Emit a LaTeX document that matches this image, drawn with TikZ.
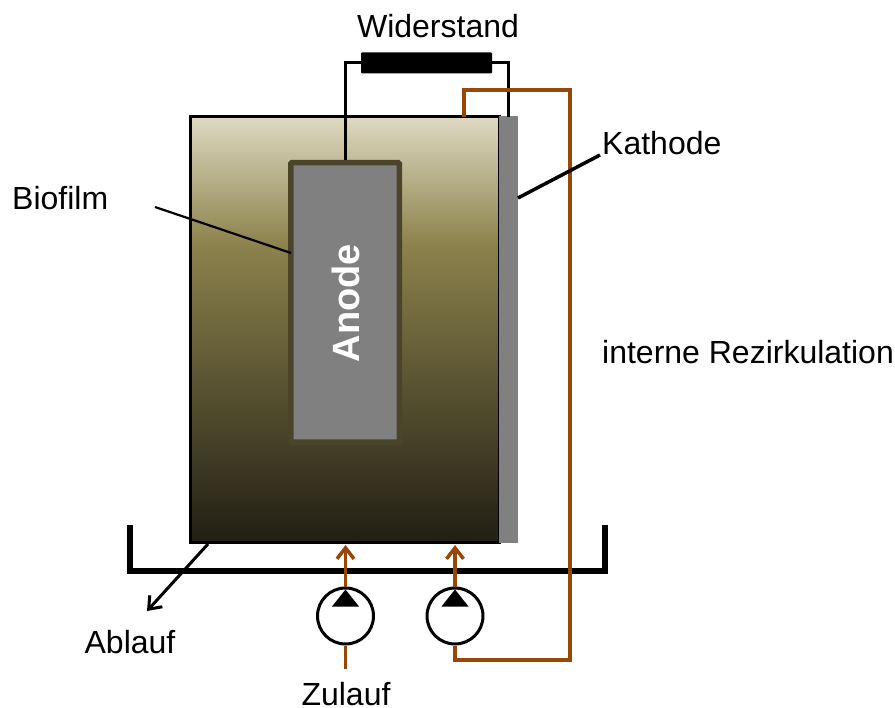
\documentclass[tikz,border=0pt]{standalone}
\usepackage{fontspec}
\setmainfont{Liberation Sans}
\usetikzlibrary{arrows.meta}
\definecolor{rezi}{RGB}{152,72,6}
\definecolor{biofilm}{RGB}{74,69,42}
\definecolor{dunkel}{RGB}{33,30,20}
\definecolor{mitte}{RGB}{140,130,76}
\definecolor{hell}{RGB}{222,217,193}
\pgfdeclareverticalshading{biomasse}{100bp}{
color(0bp)=(dunkel);
color(25bp)=(dunkel);
color(60bp)=(mitte);
color(75bp)=(hell);
color(100bp)=(hell)}
\tikzset{
txt/.style={font=\fontsize{32}{36}\selectfont,inner sep=0pt},
wire/.style={line width=3pt},
rohr/.style={rezi,line width=3.5pt},
pumpe/.style={draw,circle,line width=3pt,minimum size=56pt,inner sep=0pt}
}
\begin{document}
\begin{tikzpicture}[x=1pt,y=-1pt,>={Straight Barb[length=11pt,width=17pt]}]
\useasboundingbox (0,0) rectangle (895,708);

% Reaktor
\node[draw,line width=3pt,shading=biomasse,minimum width=309pt,minimum height=426pt,inner sep=0pt] (reaktor) at (344.5,330) {};
\node[fill=black!50,minimum width=19pt,minimum height=427pt,inner sep=0pt] (kathode) at (508.5,330) {};

% Anode
\node[draw=biofilm,fill=black!50,line width=5.5pt,rounded corners=1pt,minimum width=108.5pt,minimum height=279.5pt,inner sep=0pt] (anode) at (345,302.5) {};
\node[rotate=90,font=\fontsize{38}{42}\selectfont\bfseries,white,inner sep=0pt] (anodetxt) at (346,303) {Anode};

% Widerstand
\node[fill=black,rounded corners=1pt,minimum width=131pt,minimum height=21pt,inner sep=0pt] (widerstand) at (426.5,63) {};
\node[txt] (widerstandtxt) at (438,26) {Widerstand};
\draw[wire] (anode.north) -- (anode.north |- widerstand.west) -- (widerstand.west);
\draw[wire] (widerstand.east) -| (508,117);

% Wanne
\coordinate (wanneL) at (130,525);
\coordinate (wanneR) at (605,525);
\draw[line width=5.5pt] (wanneL) -- (130,571) -- (605,571) -- (wanneR);

% Pumpen
\foreach \n/\x in {
zu/345.5,
re/455
}
{
\node[pumpe] (pumpe\n) at (\x,616) {};
\fill (\x-13.5,606.5) -- (\x+13.5,606.5) -- (\x,589.5) -- cycle;
\draw[rohr,->] (pumpe\n.north) -- (\x,545);
}

% Zulauf
\node[txt] (zulauf) at (346,694) {Zulauf};
\coordinate (zulaufan) at (345.5,669);
\draw[rohr] (zulaufan) -- (pumpezu.south);

% Rezirkulation
\coordinate (ausgang) at (464,117);
\draw[rohr] (ausgang) -- (464,90) -- (570,90) -- (570,660) -- (455,660) -- (pumpere.south);
\node[txt,anchor=west] (rezi) at (602,352) {interne Rezirkulation};

% Ablauf
\coordinate (ablaufan) at (208,544);
\coordinate (ablaufab) at (147,611);
\draw[line width=3pt,->] (ablaufan) -- (ablaufab);
\node[txt] (ablauf) at (130,642) {Ablauf};

% Beschriftung
\node[txt,anchor=west] (biofilmtxt) at (12,198) {Biofilm};
\coordinate (biofilmL) at (155,207);
\coordinate (biofilmR) at (291,253);
\draw[line width=2.2pt] (biofilmL) -- (biofilmR);
\node[txt,anchor=west] (kathodetxt) at (602,143) {Kathode};
\coordinate (kathodeL) at (518,198);
\coordinate (kathodeR) at (600,155);
\draw[line width=3.5pt] (kathodeL) -- (kathodeR);

\end{tikzpicture}
\end{document}
